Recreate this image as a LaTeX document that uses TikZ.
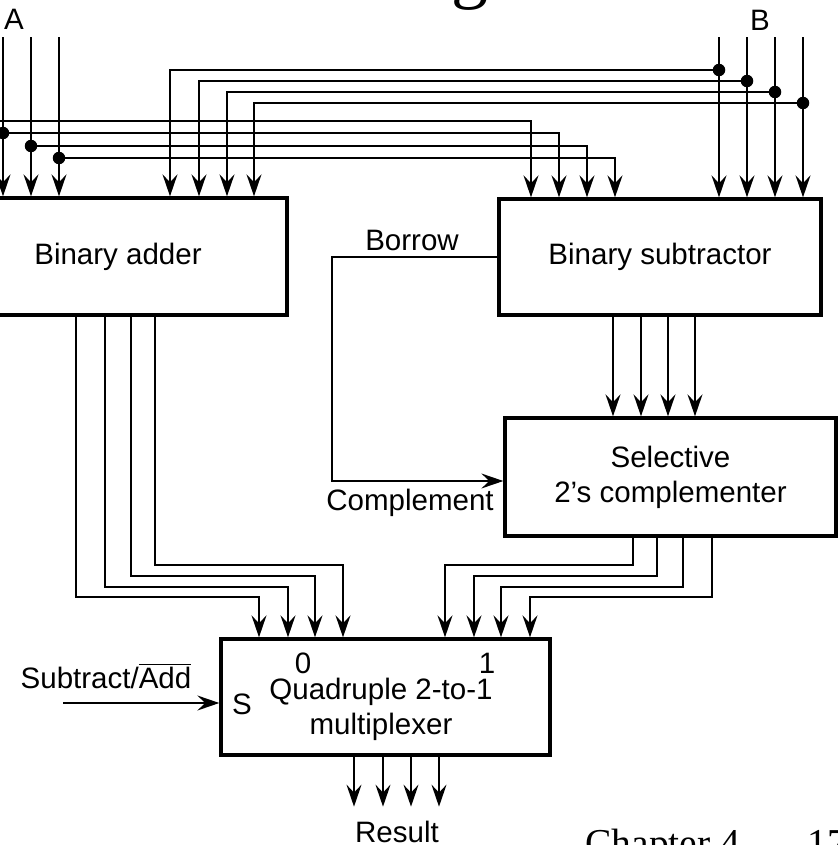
\documentclass[tikz,border=0pt]{standalone}
\usepackage{fontspec}
\setmainfont{Liberation Sans}
\newfontfamily\slidefont{Liberation Serif}
\usepackage{tikz}
\usetikzlibrary{arrows.meta,calc,positioning}

\tikzset{
  blk/.style={draw, line width=1.9pt, inner sep=0pt, align=center, font=\fontsize{16.8}{20}\selectfont},
  wire/.style={line width=1.25pt},
  bus/.style={wire, -{Stealth[length=12.5pt,width=8.5pt,inset=4.5pt]}},
  ctl/.style={line width=0.8pt, -{Stealth[length=12.5pt,width=8.5pt,inset=4.5pt]}},
  tap/.style={circle, fill, inner sep=0pt, minimum size=0.25cm},
  lbl/.style={inner sep=0pt, align=center, font=\fontsize{16.8}{20}\selectfont}
}

\begin{document}
\begin{tikzpicture}[x=0.02cm, y=-0.02cm]
\useasboundingbox (0,0) rectangle (838,845);
\clip (0,0) rectangle (838,845);

% Slide remains (title and footer)
\node[font=\slidefont\fontsize{42}{50}\selectfont, anchor=base, inner sep=0pt] (ttl) at (470,-6) {g};
\node[font=\slidefont\fontsize{22.5}{27}\selectfont, anchor=base west, inner sep=0pt] (chap) at (585,856) {Chapter 4};
\node[font=\slidefont\fontsize{22.5}{27}\selectfont, anchor=base west, inner sep=0pt] (pg) at (807,856) {17};

% Blocks
\node[blk, minimum width=6.76cm, minimum height=2.34cm] (adder) at (118,256.5) {Binary adder};
\node[blk, minimum width=6.44cm, minimum height=2.32cm] (sub) at (660,257) {Binary subtractor};
\node[blk, minimum width=6.62cm, minimum height=2.36cm] (comp) at (670.5,477) {Selective\\2's complementer};
\node[blk, minimum width=6.58cm, minimum height=2.32cm] (mux) at (385.5,697) {};
\node[lbl] (muxname) at (381,709) {Quadruple 2-to-1\\multiplexer};
\node[lbl] (in0) at (303,663) {0}; \node[lbl] (in1) at (487,663) {1}; \node[lbl] (sel-s) at (242,704) {S};

% Operand pins
\node[lbl] (alab) at (14,19) {A}; \node[lbl] (blab) at (760,20) {B};
\coordinate (a0) at (-25,37); \coordinate (a1) at (3,37); \coordinate (a2) at (31,37); \coordinate (a3) at (59,37);
\coordinate (b0) at (719,37); \coordinate (b1) at (747,37); \coordinate (b2) at (775,37); \coordinate (b3) at (803,37);

% Taps
\node[tap] (ta0) at (-25,121) {}; \node[tap] (ta1) at (3,133) {}; \node[tap] (ta2) at (31,146) {}; \node[tap] (ta3) at (59,158) {};
\node[tap] (tb0) at (719,70) {}; \node[tap] (tb1) at (747,81) {}; \node[tap] (tb2) at (775,92) {}; \node[tap] (tb3) at (803,103) {};

% A and B straight down
\draw[bus] (a0) -- (a0 |- adder.north); \draw[bus] (a1) -- (a1 |- adder.north);
\draw[bus] (a2) -- (a2 |- adder.north); \draw[bus] (a3) -- (a3 |- adder.north);
\draw[bus] (b0) -- (b0 |- sub.north); \draw[bus] (b1) -- (b1 |- sub.north);
\draw[bus] (b2) -- (b2 |- sub.north); \draw[bus] (b3) -- (b3 |- sub.north);

% A over to the subtractor, B over to the adder
\draw[bus] (ta0.center) -| (sub.north -| 531,0); \draw[bus] (ta1.center) -| (sub.north -| 559,0);
\draw[bus] (ta2.center) -| (sub.north -| 587,0); \draw[bus] (ta3.center) -| (sub.north -| 615,0);
\draw[bus] (tb0.center) -| (adder.north -| 170,0); \draw[bus] (tb1.center) -| (adder.north -| 199,0);
\draw[bus] (tb2.center) -| (adder.north -| 227,0); \draw[bus] (tb3.center) -| (adder.north -| 254,0);

% Subtractor to complementer
\draw[bus] (sub.south -| 613,0) -- (comp.north -| 613,0); \draw[bus] (sub.south -| 641,0) -- (comp.north -| 641,0);
\draw[bus] (sub.south -| 668,0) -- (comp.north -| 668,0); \draw[bus] (sub.south -| 695,0) -- (comp.north -| 695,0);

% Borrow / Complement
\node[lbl] (borrow) at (412,240) {Borrow};
\node[lbl] (cmpl) at (410,503) {Complement};
\coordinate (bend) at (332,481);
\draw[ctl] (sub.west) -| (bend) -- (bend -| comp.west);

% Adder to mux input 0
\draw[bus] (adder.south -| 76,0) -- ++(0,280) -| (mux.north -| 259,0);
\draw[bus] (adder.south -| 105,0) -- ++(0,270) -| (mux.north -| 288,0);
\draw[bus] (adder.south -| 131,0) -- ++(0,259) -| (mux.north -| 315,0);
\draw[bus] (adder.south -| 155,0) -- ++(0,248) -| (mux.north -| 343,0);

% Complementer to mux input 1
\draw[bus] (comp.south -| 633,0) -- ++(0,27) -| (mux.north -| 445,0);
\draw[bus] (comp.south -| 657,0) -- ++(0,38) -| (mux.north -| 474,0);
\draw[bus] (comp.south -| 683,0) -- ++(0,49) -| (mux.north -| 501,0);
\draw[bus] (comp.south -| 712,0) -- ++(0,59) -| (mux.north -| 530,0);

% Select
\node[lbl] (subadd) at (106,676) {Subtract/$\overline{\hbox{Add}}$};
\coordinate (sel) at (63,703);
\draw[bus] (sel) -- (sel -| mux.west);

% Result
\draw[bus] (mux.south -| 354,0) -- ++(0,50); \draw[bus] (mux.south -| 383,0) -- ++(0,50);
\draw[bus] (mux.south -| 411,0) -- ++(0,50); \draw[bus] (mux.south -| 439,0) -- ++(0,50);
\node[lbl] (res) at (397,832) {Result};
\end{tikzpicture}
\end{document}
